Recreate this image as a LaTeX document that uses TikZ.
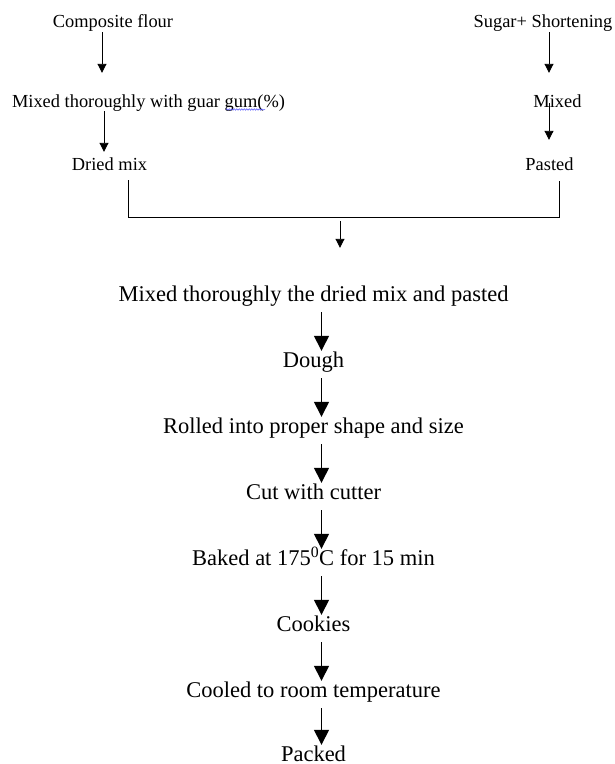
\documentclass[tikz,border=0pt]{standalone}
\usepackage{fontspec}
\setmainfont{Liberation Serif}
\usetikzlibrary{arrows.meta,calc,decorations.pathmorphing}
\begin{document}
\begin{tikzpicture}[x=1pt,y=-1pt,
  small/.style={font=\fontsize{18.4}{22}\selectfont, inner sep=0pt, anchor=base, text height=12.5pt, text depth=4pt},
  big/.style={font=\fontsize{22.5}{27}\selectfont, inner sep=0pt, anchor=base, text height=15.5pt, text depth=5pt},
  sarr/.style={line width=0.9pt, -{Triangle[width=9pt,length=9pt]}},
  barr/.style={line width=1.4pt, -{Triangle[width=15pt,length=15pt]}},
  brk/.style={line width=0.8pt},
  squig/.style={blue!70!white, line width=0.5pt, decorate, decoration={snake, amplitude=0.7pt, segment length=2.5pt}}]
\useasboundingbox (0,0) rectangle (614,764);

% top left branch
\node[small] (cf) at (113,27) {Composite flour};
\node[small] (m1) at (148.5,107) {Mixed thoroughly with guar gum(\%)};
\node[small] (dm) at (109.5,170) {Dried mix};
% top right branch
\node[small] (ss) at (543,27) {Sugar+ Shortening};
\node[small] (mx) at (557.5,107) {Mixed};
\node[small] (ps) at (549.5,170) {Pasted};

\draw[sarr] ($(cf.south)+(-11,1)$) -- ($(m1.north)+(-46.5,-21.5)$);
\draw[sarr] ($(m1.south)+(-44.5,0)$) -- ($(dm.north)+(-5.5,-5.5)$);
\draw[sarr] ($(ss.south)+(6,1)$) -- ($(mx.north)+(-8.5,-21.5)$);
\draw[sarr] ($(mx.south)+(-8.5,-8)$) -- ($(ps.north)+(-0.5,-17.5)$);

% spell-check underline under "gum"
\coordinate (sq1) at (226,109.5);
\coordinate (sq2) at (265,109.5);
\draw[squig] (sq1) -- (sq2);

% lower chain
\node[big] (mt) at (313.5,301) {Mixed thoroughly the dried mix and pasted};
\node[big] (dg) at (313.5,367) {Dough};
\node[big] (rl) at (313.5,433) {Rolled into proper shape and size};
\node[big] (ct) at (313.5,499) {Cut with cutter};
\node[big] (bk) at (313.5,565) {Baked at 175\textsuperscript{0}C for 15 min};
\node[big] (ck) at (313.5,631) {Cookies};
\node[big] (cl) at (313.5,697) {Cooled to room temperature};
\node[big, text depth=0pt] (pk) at (313.5,761) {Packed};

% bracket joining the two branches
\coordinate (jn) at (340,217);
\draw[brk] ($(dm.south)+(18.5,6)$) |- ($(ps.south)+(9.5,43)$) -- ($(ps.south)+(9.5,7)$);
\draw[sarr] ($(jn)+(0,4)$) -- ($(mt.north)+(26.5,-37.5)$);

\foreach \a/\b in {mt/dg, dg/rl, rl/ct, ct/bk, bk/ck, ck/cl, cl/pk}
  \draw[barr] ($(\a.south)+(8,6)$) -- ($(\b.north)+(8,-0.5)$);
\end{tikzpicture}
\end{document}
